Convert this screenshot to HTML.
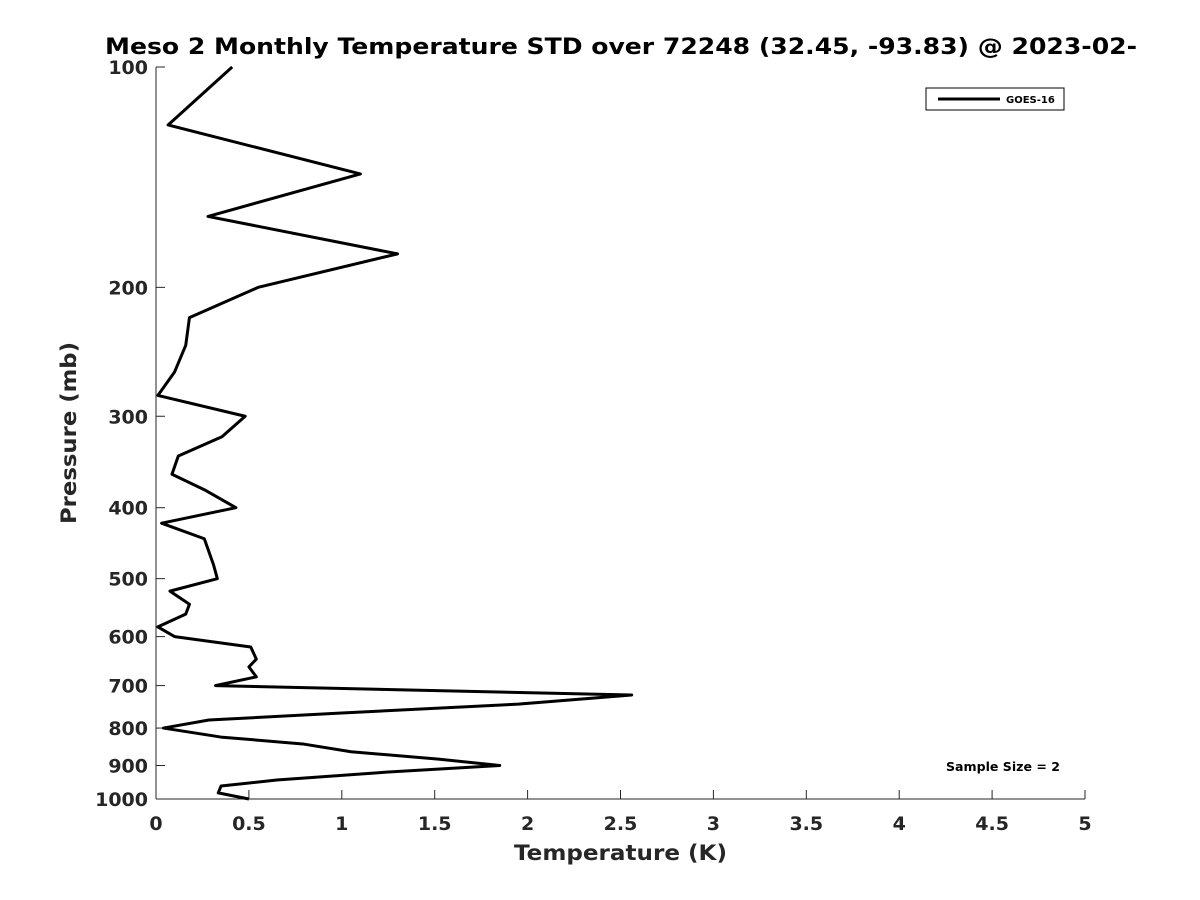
<!DOCTYPE html>
<html><head><meta charset="utf-8"><style>
body{margin:0;background:#fff;}
svg{display:block;font-family:"DejaVu Sans","Liberation Sans",sans-serif;}
</style></head><body>
<svg id="chart" width="1200" height="900">
<text x="105" y="54" font-size="22" font-weight="bold" fill="#000" textLength="1032" lengthAdjust="spacingAndGlyphs">Meso 2 Monthly Temperature STD over 72248 (32.45, -93.83) @ 2023-02-</text>
<g id="axes"></g>
<polyline id="line" fill="none" stroke="#000" stroke-width="3" stroke-linejoin="round"></polyline>
<g>
<rect x="926" y="88" width="138" height="22" fill="#fff" stroke="#000" stroke-width="1"/>
<line x1="938" y1="99" x2="1000" y2="99" stroke="#000" stroke-width="3"/>
<text x="1006" y="103" font-size="10" font-weight="bold">GOES-16</text>
</g>
<text x="946" y="771" font-size="12" font-weight="bold" textLength="114" lengthAdjust="spacingAndGlyphs">Sample Size = 2</text>
<text x="514" y="860" font-size="21" font-weight="bold" fill="#262626" textLength="213" lengthAdjust="spacingAndGlyphs">Temperature (K)</text>
<text transform="translate(76,524) rotate(-90)" font-size="21" font-weight="bold" fill="#262626" textLength="182" lengthAdjust="spacingAndGlyphs">Pressure (mb)</text>
</svg>
<script>
const temps=[0.41,0.065,1.10,0.28,1.30,0.55,0.18,0.16,0.10,0.01,0.48,0.355,0.12,0.086,0.26,0.43,0.03,0.26,0.31,0.33,0.075,0.18,0.16,0.01,0.10,0.51,0.54,0.50,0.54,0.32,2.56,1.95,1.0,0.285,0.04,0.35,0.79,1.05,1.52,1.85,1.24,0.65,0.35,0.335,0.5];
const pressures=[100,120,140,160,180,200,220,240,261,281,300,320,340,360,378,400,420,441,479,500,520,542,559,582,600,620,644,660,681,700,721,742,763,780,800,823,841,862,882,900,919,942,960,981,1000];
const xTicks=[0,0.5,1,1.5,2,2.5,3,3.5,4,4.5,5];
const yTicks=[100,200,300,400,500,600,700,800,900,1000];
const X0=156,X1=1085,Y0=67,Y1=799;
const xs=v=>X0+(v-0)/(5-0)*(X1-X0);
const ys=p=>Y0+(Math.log10(p)-2)*(Y1-Y0);
const NS="http://www.w3.org/2000/svg";
const ax=document.getElementById('axes');
function mk(t,a){const e=document.createElementNS(NS,t);for(const k in a)e.setAttribute(k,a[k]);ax.appendChild(e);return e;}
const yl=mk('line',{x1:X0,y1:Y0,x2:X0,y2:Y1,stroke:'#262626','stroke-width':1});


const xl=mk('line',{x1:X0,y1:Y1,x2:X1,y2:Y1,stroke:'#262626','stroke-width':1});


xTicks.forEach(v=>{
  const x=xs(v);
  mk('line',{x1:x,y1:Y1,x2:x,y2:Y1-9,stroke:'#262626'});
  const t=mk('text',{x:x,y:830,'text-anchor':'middle','font-size':19,'font-weight':'bold',fill:'#262626'});
  t.textContent=v;
  
  
});
yTicks.forEach(p=>{
  const y=ys(p);
  mk('line',{x1:X0,y1:y,x2:X0+9,y2:y,stroke:'#262626'});
  const t=mk('text',{x:148,y:y+7,'text-anchor':'end','font-size':19,'font-weight':'bold',fill:'#262626'});
  t.textContent=p;
  
  
});
document.getElementById('line').setAttribute('points',temps.map((t,i)=>xs(t)+','+ys(pressures[i])).join(' '));
</script>
</body></html>
